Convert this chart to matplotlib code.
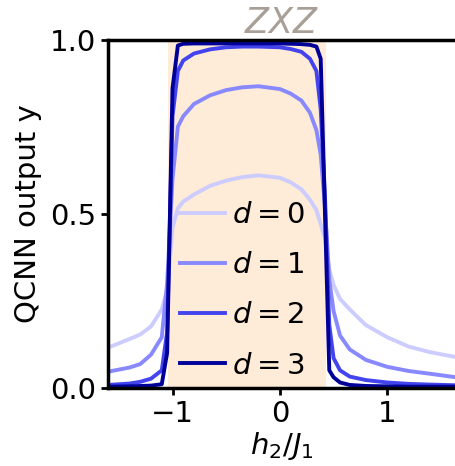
import matplotlib
matplotlib.use("Agg")
import matplotlib.pyplot as plt

# h2/J1 sample points and QCNN outputs for each depth d
h2 = [-1.6, -1.4, -1.3, -1.2, -1.1, -1.05, -1.0, -0.95, -0.9, -0.8, -0.65, -0.5,
      -0.35, -0.2, 0.0, 0.1, 0.2, 0.28, 0.34, 0.38, 0.42, 0.46, 0.5, 0.56, 0.65,
      0.8, 1.0, 1.2, 1.4, 1.64]
y_d0 = [0.115, 0.14, 0.153, 0.176, 0.225, 0.28, 0.46, 0.515, 0.535, 0.555, 0.58, 0.595,
        0.605, 0.61, 0.603, 0.59, 0.57, 0.54, 0.51, 0.47, 0.43, 0.34, 0.295, 0.255, 0.225,
        0.18, 0.145, 0.118, 0.102, 0.088]
y_d1 = [0.046, 0.058, 0.068, 0.095, 0.145, 0.30, 0.60, 0.75, 0.78, 0.815, 0.84, 0.855,
        0.863, 0.866, 0.858, 0.845, 0.825, 0.79, 0.74, 0.67, 0.52, 0.31, 0.22, 0.15, 0.11,
        0.08, 0.06, 0.048, 0.04, 0.03]
y_d2 = [0.008, 0.012, 0.017, 0.026, 0.05, 0.16, 0.78, 0.91, 0.94, 0.96, 0.972, 0.978,
        0.98, 0.98, 0.978, 0.973, 0.965, 0.945, 0.91, 0.80, 0.55, 0.18, 0.085, 0.05, 0.032,
        0.022, 0.015, 0.011, 0.009, 0.007]
y_d3 = [0.003, 0.004, 0.005, 0.006, 0.01, 0.10, 0.86, 0.983, 0.988, 0.989, 0.989, 0.989,
        0.989, 0.989, 0.989, 0.988, 0.987, 0.985, 0.98, 0.945, 0.50, 0.05, 0.03, 0.015, 0.008,
        0.005, 0.004, 0.003, 0.003, 0.003]
series = [y_d0, y_d1, y_d2, y_d3]
labels = ["$d=0$", "$d=1$", "$d=2$", "$d=3$"]
colors = ["#ccccff", "#8888ff", "#4444ee", "#000099"]
phase = (-1.04, 0.43)

plt.rcParams["font.size"] = 21
fig = plt.figure(figsize=(4.56, 4.66), dpi=100)
ax = fig.add_axes([0.237, 0.168, 0.763, 0.747])

ax.axvspan(phase[0], phase[1], color="#feebd8", lw=0, zorder=0)
for ys, lab, c in zip(series, labels, colors):
    ax.plot(h2, ys, color=c, lw=2.8, label=lab)

ax.set_xlim(-1.6, 1.64)
ax.set_ylim(0, 1.0)
ax.set_xticks([-1, 0, 1])
ax.set_yticks([0.0, 0.5, 1.0])
ax.set_xlabel("$h_2/J_1$", labelpad=2)
ax.set_ylabel("QCNN output y", labelpad=6)
ax.set_title("$ZXZ$", color="#a89f96", pad=2)
for s in ["left", "bottom", "top"]:
    ax.spines[s].set_linewidth(2.5)
ax.spines["right"].set_visible(False)
ax.tick_params(width=2, length=5)

ax.legend(loc="lower left", bbox_to_anchor=(0.173, -0.01), frameon=False,
          handlelength=1.55, handletextpad=0.25, labelspacing=0.76,
          borderaxespad=0.0)

fig.savefig("out.png", dpi=100)
